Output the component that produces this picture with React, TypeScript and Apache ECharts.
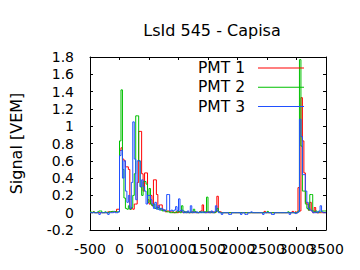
import React, { useEffect, useRef } from "react";
import * as echarts from "echarts";

const chartTitle = "LsId 545 - Capisa";
const yAxisTitle = "Signal [VEM]";
const seriesNames = ["PMT 1", "PMT 2", "PMT 3"];
const seriesColors = ["#ff0000", "#00c000", "#2050ff"];

const binStart = -500;
const binWidth = 25;
const xMin = -500;
const xMax = 3500;
const xStep = 500;
const yMin = -0.2;
const yMax = 1.8;
const yStep = 0.2;

// PMT 1 (red), one value per 25 ns bin starting at -500
const pmt1 = [
  0, 0, 0.01, 0, 0, 0, 0, 0, 0, 0, 0, 0, 0.01, 0.01, 0.01, 0.01, 0.01, 0.01, 0.04, 0.04,
  0.72, 0.75, 0.62, 0.6, 0.53, 0.53, 0.5, 0.04, 0.05, 0.04, 0.1, 0.1, 0.35, 0.94, 0.94, 0.45, 0.25, 0.46, 0.46, 0.15,
  0.1, 0.2, 0.08, 0.38, 0.38, 0.21, 0.06, 0.09, 0.09, 0.03, 0.03, 0.01, 0.02, 0.02, 0.01, 0.01, 0, 0, 0.01, 0,
  0.01, 0.02, 0.01, 0, 0.01, 0, 0.01, 0, 0, 0.01, 0, 0.01, 0, 0, 0.01, 0.02, 0.09, 0.01, 0, 0.01,
  0, 0.01, 0, 0.01, 0, 0.01, 0.19, 0.01, 0.01, 0, 0, 0, 0, 0, 0, 0, 0, 0, 0, 0,
  0, 0, 0, 0, 0, 0, 0, 0, 0, 0, 0, 0, 0, 0, 0, 0, 0, 0, 0.015, 0,
  0, 0, 0, 0, 0, 0, 0, 0, 0, 0, 0, 0, 0, 0, 0, 0, 0, 0.015, 0, 0.01,
  0, 0.29, 0.02, 1.33, 0.83, 0.46, 0.12, 0.1, 0.03, 0.12, 0.02, 0, 0.06, 0, 0, 0, 0, 0, 0, 0,
];

// PMT 2 (green)
const pmt2 = [
  0.01, 0, 0.01, 0, 0, 0.01, 0.02, 0.02, 0, 0, 0.01, 0, 0, 0.01, 0.015, 0.015, 0.015, 0.01, 0.01, 0.01,
  0.83, 1.42, 0.5, 0.17, 0.05, 0.04, 0.08, 0.04, 0.06, 0.2, 0.45, 1.12, 1.12, 0.6, 0.3, 0.2, 0.36, 0.36, 0.33, 0.12,
  0.28, 0.1, 0.08, 0.1, 0.05, 0.06, 0.04, 0.05, 0.03, 0.02, 0.03, 0.02, 0.01, 0.01, 0, 0, 0.01, 0, 0, 0.02,
  0.01, 0, 0.08, 0.02, 0, 0.01, 0, 0, 0.01, 0, 0.04, 0.01, 0, 0, 0.01, 0, 0.01, 0, 0.01, 0.18,
  0.01, 0, 0.01, 0, 0, 0.01, 0.05, 0.01, 0, 0, 0, 0, 0, 0, 0, 0, 0, 0, 0, 0,
  0, 0, 0, 0, 0, 0, 0, 0, 0, 0, 0, 0, 0, 0, 0, 0, 0, 0, 0, 0,
  0.015, 0, 0, 0, 0, 0, 0, 0, 0, 0, 0, 0, 0, 0, 0.01, 0, 0, 0, 0, 0,
  0, 0.02, 1.77, 0.77, 0.25, 0.25, 0.1, 0.05, 0.03, 0.21, 0.21, 0.02, 0.01, 0.02, 0, 0.01, 0.01, 0.02, 0.02, 0.02,
];

// PMT 3 (blue)
const pmt3 = [
  0, 0, 0, 0, 0, 0, -0.02, 0, 0, 0, 0, 0, -0.02, 0, 0, 0, 0.01, 0, 0, 0.01,
  0.66, 0.72, 0.4, 0.6, 0.25, 0.12, 0.2, 0.05, 0.35, 1.05, 0.62, 0.15, 0.6, 0.6, 0.3, 0.38, 0.3, 0.25, 0.1, 0.2,
  0.2, 0.15, 0.1, 0.05, 0.12, 0.04, 0.08, 0.03, 0.05, 0.04, 0.02, 0.03, 0.21, 0.21, 0.02, 0.03, 0.02, 0.03, 0.07, 0.02,
  0.16, 0.02, 0.03, 0, 0.01, 0, 0.02, 0, 0.08, 0, 0.01, 0, 0.01, 0, 0, 0.01, 0, 0.01, 0, 0,
  0.01, 0, 0.02, 0, 0.01, 0.08, 0.02, 0, 0, -0.02, 0, 0, 0, 0, -0.02, -0.02, 0, 0, 0, 0,
  0, 0, -0.02, 0, 0, -0.02, -0.02, 0, 0, 0.01, 0, 0, 0, 0, 0, 0, 0, -0.02, 0, 0,
  0, 0, 0, -0.02, -0.02, 0, 0, 0, 0, 0, 0, 0, 0, 0, 0, -0.02, 0, 0, 0, -0.01,
  0, 0.01, 1.08, 0.88, 0.44, 0.44, 0.25, 0.12, 0.05, 0.03, 0.02, 0, 0, 0.01, 0, 0.02, 0.08, 0.01, 0, 0,
];

const pmtValues = [pmt1, pmt2, pmt3];

const font = "DejaVu Sans";

export default function App() {
  const ref = useRef<HTMLDivElement>(null);

  useEffect(() => {
    if (!ref.current) return;
    const chart = echarts.init(ref.current, null, { renderer: "svg" });

    const toSteps = (vals: number[]) => {
      const pts = vals.map((v, i) => [binStart + i * binWidth, v]);
      pts.push([binStart + vals.length * binWidth, vals[vals.length - 1]]);
      return pts;
    };

    const plain = (v: number) => String(Math.round(v * 1000) / 1000);
    // the x tick labels overlap in the reference; split them over two axes so none is dropped
    const xLabelParity = (parity: number) => (v: number) =>
      Math.round((v - xMin) / xStep) % 2 === parity ? plain(v) : "";

    const axisCommon = {
      axisLine: { show: true, onZero: false, lineStyle: { color: "#000", width: 1 } },
      axisTick: { show: true, inside: true, length: 3, lineStyle: { color: "#000", width: 1 } },
      splitLine: { show: false },
    };

    const xLabelStyle = {
      show: true,
      margin: 12,
      fontFamily: font,
      fontSize: 14,
      color: "#000",
      showMinLabel: true,
      showMaxLabel: true,
      hideOverlap: false,
    };

    const option: any = {
      animation: false,
      backgroundColor: "#fff",
      title: {
        text: chartTitle,
        left: 207,
        top: 17,
        textAlign: "center",
        textStyle: { fontFamily: font, fontSize: 16, fontWeight: "normal", color: "#000" },
      },
      grid: { left: 90, right: 34, top: 57, bottom: 40, containLabel: false },
      legend: {
        orient: "vertical",
        right: 56,
        top: 60,
        padding: 0,
        align: "right",
        icon: "rect",
        itemWidth: 46,
        itemHeight: 1,
        itemGap: 3.3,
        selectedMode: false,
        data: seriesNames,
        textStyle: {
          fontFamily: font,
          fontSize: 15.5,
          color: "#000",
          lineHeight: 16,
          padding: [0, 8, 0, 0],
        },
      },
      xAxis: [
        {
          type: "value",
          min: xMin,
          max: xMax,
          interval: xStep,
          position: "bottom",
          ...axisCommon,
          axisLabel: { ...xLabelStyle, formatter: xLabelParity(0) },
        },
        {
          type: "value",
          min: xMin,
          max: xMax,
          interval: xStep,
          position: "top",
          ...axisCommon,
          axisLabel: { show: false },
        },
        {
          type: "value",
          min: xMin,
          max: xMax,
          interval: xStep,
          position: "bottom",
          offset: 0,
          axisLine: { show: false },
          axisTick: { show: false },
          splitLine: { show: false },
          axisLabel: { ...xLabelStyle, formatter: xLabelParity(1) },
        },
      ],
      yAxis: [
        {
          type: "value",
          min: yMin,
          max: yMax,
          interval: yStep,
          position: "left",
          ...axisCommon,
          name: yAxisTitle,
          nameLocation: "middle",
          nameGap: 66,
          nameRotate: 90,
          nameTextStyle: { fontFamily: font, fontSize: 16, color: "#000" },
          axisLabel: {
            show: true,
            margin: 16,
            fontFamily: font,
            fontSize: 14,
            color: "#000",
            formatter: plain,
            showMinLabel: true,
            showMaxLabel: true,
          },
        },
        {
          type: "value",
          min: yMin,
          max: yMax,
          interval: yStep,
          position: "right",
          ...axisCommon,
          axisLabel: { show: false },
        },
      ],
      series: seriesNames.map((name, k) => ({
        name,
        type: "line",
        step: "end",
        xAxisIndex: 0,
        yAxisIndex: 0,
        symbol: "none",
        showSymbol: false,
        silent: true,
        clip: true,
        color: seriesColors[k],
        itemStyle: { color: seriesColors[k] },
        lineStyle: { color: seriesColors[k], width: 1 },
        data: toSteps(pmtValues[k]),
      })),
    };

    chart.setOption(option);
    return () => chart.dispose();
  }, []);

  return (
    <div
      ref={ref}
      style={{ position: "fixed", left: 0, top: 0, width: 360, height: 270, background: "#fff" }}
    />
  );
}
